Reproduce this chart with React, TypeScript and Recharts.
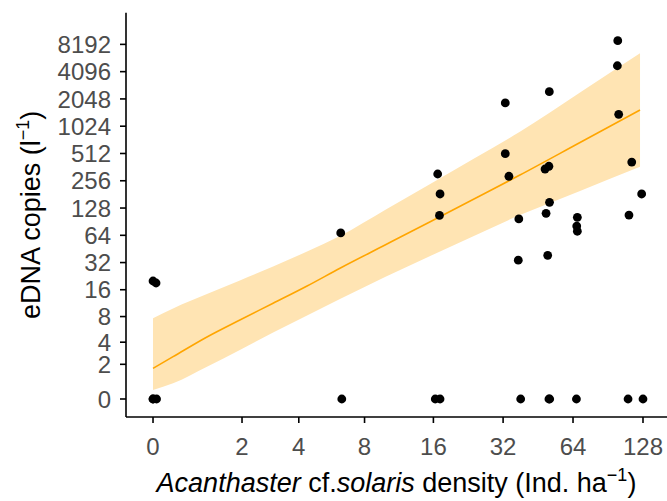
import React from 'react';
import { ComposedChart, XAxis, YAxis, Area, Line, Scatter, Label } from 'recharts';

// Observed points (density in Ind. ha^-1, eDNA copies per litre)
const pointX = [
  99.7, 99.3, 100.6, 114.5, 126.3, 111.4, 66.8, 66.4, 66.8,
  50.6, 32.7, 32.7, 33.9, 48.5, 50.4, 50.7, 49.0, 37.4, 37.2, 49.8,
  6.26, 16.7, 17.1, 17.0, 0, 0.06,
  0, 0, 0.07, 6.33, 16.3, 17.1, 38.1, 50.4, 50.8, 66.2, 110.4, 128,
];
const pointY = [
  8990, 4760, 1385, 412, 183, 107, 101, 81, 71,
  2460, 1850, 509, 287, 345, 370, 148, 112, 97, 34, 38.5,
  68, 304, 183, 106, 20, 19,
  0, 0, 0, 0, 0, 0, 0, 0, 0, 0, 0, 0,
];

// Fitted curve and confidence band
const fitX = [0, 0.4, 1.12, 1.94, 2.98, 4.38, 6.21, 9.85, 15.5, 24.2, 37.8, 68.6, 124.3];
const fitY = [1.72, 2.59, 4.63, 7.31, 11.3, 17.6, 27.7, 50.0, 90.4, 163, 296, 677, 1546];
const fitLo = [0.46, 0.82, 1.83, 3.19, 5.23, 8.23, 12.6, 22.2, 37.9, 63.7, 107, 198, 366];
const fitHi = [7.64, 9.87, 14.3, 20.3, 29.0, 42.4, 62.9, 122, 236, 456, 890, 2411, 6526];

const xTickValues = [0, 2, 4, 8, 16, 32, 64, 128];
const yTickValues = [0, 2, 4, 8, 16, 32, 64, 128, 256, 512, 1024, 2048, 4096, 8192];

// pseudo-log (base 2, sigma 1) transform
const T = (v: number) => Math.asinh(v / 2) / Math.LN2;
const inv = (t: number) => Math.round(2 * Math.sinh(t * Math.LN2));

const curveData = fitX.map((x, i) => ({
  tx: T(x),
  fit: T(fitY[i]),
  lo: T(fitLo[i]),
  hi: T(fitHi[i]),
}));
const pointData = pointX.map((x, i) => ({ tx: T(x), ty: T(pointY[i]) }));

const FONT = '"Liberation Sans", Arial, sans-serif';

const YTick = (props: any) => {
  const { x, y, payload } = props;
  return (
    <text x={x} y={y} dy="0.36em" textAnchor="end" fill="#4D4D4D" fontSize={24} fontFamily={FONT}>
      {inv(payload.value)}
    </text>
  );
};
const XTick = (props: any) => {
  const { x, y, payload } = props;
  return (
    <text x={x} y={y} dy="0.72em" textAnchor="middle" fill="#4D4D4D" fontSize={24} fontFamily={FONT}>
      {inv(payload.value)}
    </text>
  );
};

const XTitle = (props: any) => {
  const vb = props.viewBox || { x: 126, width: 541 };
  const cx = vb.x + vb.width / 2;
  return (
    <text x={cx} y={492} textAnchor="middle" fontSize={27} fontFamily={FONT} fill="#000">
      <tspan fontStyle="italic">Acanthaster</tspan>
      <tspan> cf.</tspan>
      <tspan fontStyle="italic">solaris</tspan>
      <tspan> density (Ind. ha</tspan>
      <tspan dy={-11} fontSize={18}>−1</tspan>
      <tspan dy={11}>)</tspan>
    </text>
  );
};
const YTitle = (props: any) => {
  const vb = props.viewBox || { y: 12.7, height: 404 };
  const cy = vb.y + vb.height / 2;
  const x = 40;
  return (
    <text x={x} y={cy} textAnchor="middle" fontSize={27} fontFamily={FONT} fill="#000" transform={`rotate(-90 ${x} ${cy})`}>
      <tspan>eDNA copies (l</tspan>
      <tspan dy={-11} fontSize={18}>−1</tspan>
      <tspan dy={11}>)</tspan>
    </text>
  );
};

const Dot = (props: any) => <circle cx={props.cx} cy={props.cy} r={4.4} fill="#000" />;

export default function App() {
  return (
    <div style={{ position: 'absolute', left: 0, top: 0, background: '#fff' }}>
      <ComposedChart width={667} height={501} data={curveData} margin={{ top: 12.7, right: 0, bottom: 0, left: 0 }}>
        <XAxis
          type="number"
          dataKey="tx"
          domain={[-0.386, 7.343]}
          allowDataOverflow
          ticks={xTickValues.map(T)}
          interval={0}
          tick={<XTick />}
          tickSize={6}
          tickMargin={15}
          height={84}
          axisLine={{ stroke: '#000', strokeWidth: 1.6 }}
          tickLine={{ stroke: '#000', strokeWidth: 1.6 }}
        >
          <Label content={<XTitle />} />
        </XAxis>
        <YAxis
          type="number"
          domain={[-0.66, 14.161]}
          allowDataOverflow
          ticks={yTickValues.map(T)}
          interval={0}
          tick={<YTick />}
          tickSize={6}
          tickMargin={9}
          width={126}
          axisLine={{ stroke: '#000', strokeWidth: 1.6 }}
          tickLine={{ stroke: '#000', strokeWidth: 1.6 }}
        >
          <Label content={<YTitle />} />
        </YAxis>
        <Area
          type="monotone"
          dataKey={(d: any) => [d.lo, d.hi]}
          fill="#FFE4B3"
          fillOpacity={1}
          stroke="none"
          isAnimationActive={false}
        />
        <Line type="monotone" dataKey="fit" stroke="#FFA500" strokeWidth={1.6} dot={false} isAnimationActive={false} />
        <Scatter data={pointData} dataKey="ty" shape={<Dot />} isAnimationActive={false} />
      </ComposedChart>
    </div>
  );
}
